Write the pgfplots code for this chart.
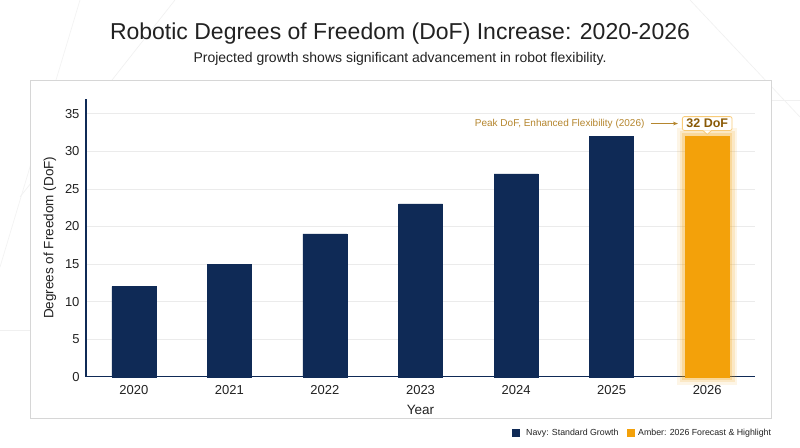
\documentclass[border=0pt]{standalone}
\usepackage{pgfplots}
\pgfplotsset{compat=1.18}
\usepackage{fontspec}
\setmainfont{Liberation Sans}
\usetikzlibrary{arrows.meta}
\definecolor{navy}{HTML}{0F2A56}
\definecolor{amber}{HTML}{F3A10A}
\definecolor{annot}{HTML}{B5862E}
\definecolor{annotdark}{HTML}{8A5A06}
\definecolor{gridc}{HTML}{EBEBEB}
\definecolor{panel}{HTML}{D6D6D6}
\definecolor{txt}{HTML}{222222}
\pgfplotstableread{
x y
0 12
1 15
2 19
3 23
4 27
5 32
}\navydata
\pgfplotstableread{
x y
6 32
}\amberdata
\begin{document}
\begin{tikzpicture}[x=1pt,y=1pt]
\useasboundingbox[fill=white] (0,0) rectangle (800,447);
% faint background lines
\draw[black!6, line width=0.6pt] (20,250) -- (175,447);
\draw[black!6, line width=0.6pt] (0,117) -- (30,117);
\draw[black!6, line width=0.6pt] (770,347) -- (800,347);
\draw[black!6, line width=0.6pt] (690,447) -- (800,330);
\draw[black!5, line width=0.6pt] (0,180) -- (80,447);
% panel
\draw[panel, line width=0.8pt, fill=white] (30,29) rectangle (771,367);
% titles
\node[font=\fontsize{23}{27}\selectfont, text=txt] at (400,413) {Robotic Degrees of Freedom (DoF) Increase: 2020-2026};
\node[font=\fontsize{14}{17}\selectfont, text=txt] at (400,388) {Projected growth shows significant advancement in robot flexibility.};
\begin{axis}[
  at={(90,93.5)}, anchor=south west,
  scale only axis, width=669pt, height=278pt,
  xmin=-0.5, xmax=6.5, ymin=0, ymax=37,
  axis x line=bottom, axis y line=left,
  axis line style={navy, line width=1.2pt, -},
  xtick={0,1,2,3,4,5,6},
  xticklabels={2020,2021,2022,2023,2024,2025,2026},
  ytick={0,5,10,15,20,25,30,35},
  major tick length=0pt,
  ymajorgrids, grid style={gridc, line width=0.8pt},
  tick label style={font=\fontsize{13}{15}\selectfont, text=txt},
  /pgf/number format/assume math mode=true,
  xticklabel style={yshift=-5pt},
  yticklabel style={xshift=-3pt},
  xlabel={Year}, ylabel={Degrees of Freedom (DoF)},
  label style={font=\fontsize{13.5}{16}\selectfont, text=txt},
  xlabel style={yshift=-4pt},
  ylabel style={yshift=2pt},
  clip=false,
]
\addplot[ybar, bar shift=0pt, bar width=44pt, fill=navy, draw=navy] table[x=x,y=y] {\navydata};
\addplot[ybar, bar shift=0pt, bar width=44pt, fill=none, draw=amber, draw opacity=0.10, line width=16pt] table[x=x,y=y] {\amberdata};
\addplot[ybar, bar shift=0pt, bar width=44pt, fill=none, draw=amber, draw opacity=0.15, line width=11pt] table[x=x,y=y] {\amberdata};
\addplot[ybar, bar shift=0pt, bar width=44pt, fill=none, draw=amber, draw opacity=0.22, line width=6pt] table[x=x,y=y] {\amberdata};
\addplot[ybar, bar shift=0pt, bar width=44pt, fill=amber, draw=amber] table[x=x,y=y] {\amberdata};
% annotation
\node[font=\fontsize{12.5}{14}\selectfont\bfseries, text=annotdark, fill=white, draw=amber!55, line width=0.8pt,
      rounded corners=2pt, inner xsep=4pt, inner ysep=2.5pt] (lab) at (axis cs:6,33.7) {32 DoF};
\fill[white] ([xshift=-4pt,yshift=0.6pt]lab.south) -- ([xshift=4pt,yshift=0.6pt]lab.south) -- ([yshift=-3.5pt]lab.south) -- cycle;
\draw[amber!55, line width=0.8pt] ([xshift=-4pt]lab.south) -- ([yshift=-3.5pt]lab.south) -- ([xshift=4pt]lab.south);
\draw[annot, line width=0.8pt, -{Stealth[length=5pt]}] ([xshift=-31pt]lab.west) -- ([xshift=-4pt]lab.west);
\node[font=\fontsize{10}{12}\selectfont, text=annot, anchor=east] at ([xshift=-34pt]lab.west) {Peak DoF, Enhanced Flexibility (2026)};
\end{axis}
% legend
\fill[navy] (512,10) rectangle (520,18);
\node[anchor=west, font=\fontsize{8.8}{11}\selectfont, text=txt, inner sep=0pt] at (526,14) {Navy: Standard Growth};
\fill[amber] (627,10) rectangle (635,18);
\node[anchor=west, font=\fontsize{8.8}{11}\selectfont, text=txt, inner sep=0pt] at (638,14) {Amber: 2026 Forecast \& Highlight};
\end{tikzpicture}
\end{document}
